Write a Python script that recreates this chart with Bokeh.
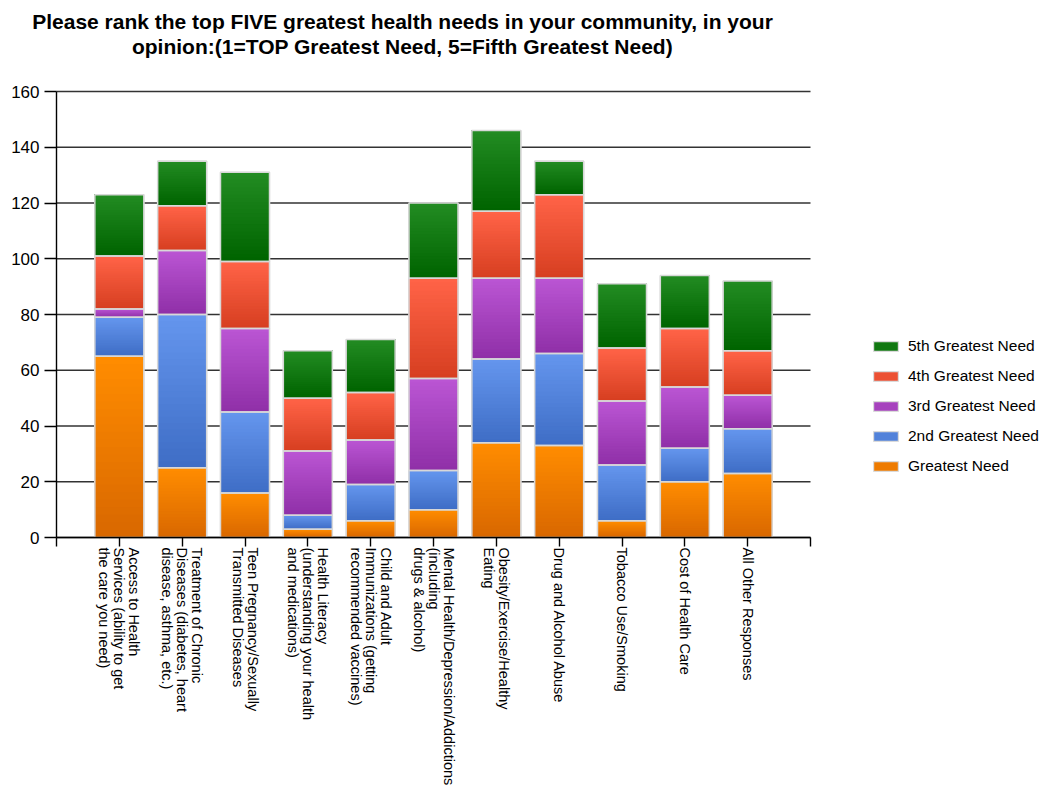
from math import pi
from bokeh.plotting import figure
from bokeh.models import ColumnDataSource, FixedTicker, Legend, LegendItem, Label, Range1d
from bokeh.embed import file_html
from bokeh.resources import INLINE

categories = [
    "Access to Health\nServices (ability to get\nthe care you need)",
    "Treatment of Chronic\nDiseases (diabetes, heart\ndisease, asthma, etc.)",
    "Teen Pregnancy/Sexually\nTransmitted Diseases",
    "Health Literacy\n(understanding your health\nand medications)",
    "Child and Adult\nImmunizations (getting\nrecommended vaccines)",
    "Mental Health/Depression/Addictions\n(including\ndrugs & alcohol)",
    "Obesity/Exercise/Healthy\nEating",
    "Drug and Alcohol Abuse",
    "Tobacco Use/Smoking",
    "Cost of Health Care",
    "All Other Responses",
]
greatest = [65, 25, 16, 3, 6, 10, 34, 33, 6, 20, 23]
second = [14, 55, 29, 5, 13, 14, 30, 33, 20, 12, 16]
third = [3, 23, 30, 23, 16, 33, 29, 27, 23, 22, 12]
fourth = [19, 16, 24, 19, 17, 36, 24, 30, 19, 21, 16]
fifth = [22, 16, 32, 17, 19, 27, 29, 12, 23, 19, 25]

series_names = ["Greatest Need", "2nd Greatest Need", "3rd Greatest Need",
                "4th Greatest Need", "5th Greatest Need"]
series_keys = ["s1", "s2", "s3", "s4", "s5"]
colors = ["#EE7B00", "#5282DA", "#A642BD", "#EC5134", "#117811"]
colors_top = ["#FF8C00", "#6495ED", "#BA55D3", "#FF6347", "#228B22"]
colors_bottom = ["#D96800", "#3F6EC6", "#9030A8", "#D73F21", "#006400"]
y_ticks = [0, 20, 40, 60, 80, 100, 120, 140, 160]
title_lines = ["Please rank the top FIVE greatest health needs in your community, in your",
               "opinion:(1=TOP Greatest Need, 5=Fifth Greatest Need)"]

# ---- layout (pixels) ----
W, H = 1044, 791
PL, PR, PT, PB = 56, 810, 91, 537          # plot-area box on the page
n_slots = len(categories) + 1
Y_MAX = 160
px_x = (PR - PL) / n_slots
px_y = (PB - PT) / Y_MAX
x_range = Range1d(-PL / px_x, n_slots + (W - PR) / px_x)
y_range = Range1d(-(H - PB) / px_y, Y_MAX + PT / px_y)
BAR_W = 0.78
FONT = "Liberation Sans"

positions = list(range(1, len(categories) + 1))
series_vals = [greatest, second, third, fourth, fifth]
src = ColumnDataSource(dict(x=positions, s1=greatest, s2=second, s3=third, s4=fourth, s5=fifth))

p = figure(width=W, height=H, x_range=x_range, y_range=y_range,
           output_backend="svg", toolbar_location=None, title=None,
           min_border=0, min_border_left=0, min_border_right=0,
           min_border_top=0, min_border_bottom=0)
p.outline_line_color = None
p.background_fill_color = "white"
p.border_fill_color = "white"
p.xgrid.visible = False
p.ygrid.visible = False

# horizontal grid lines across the plot area
grid_src = ColumnDataSource(dict(x0=[0] * len(y_ticks), x1=[n_slots] * len(y_ticks),
                                 y=y_ticks))
p.segment(x0="x0", y0="y", x1="x1", y1="y", source=grid_src,
          line_color="#333333", line_width=1.4)

# base stacked bars (also used for legend swatches)
renderers = p.vbar_stack(series_keys, x="x", width=BAR_W, source=src,
                         fill_color=colors, line_color="#dadada", line_width=1.2)


# vertical gradient inside every segment (light top -> dark bottom)
def hex2rgb(h):
    h = h.lstrip("#")
    return tuple(int(h[i:i + 2], 16) for i in (0, 2, 4))


def mix(c1, c2, t):
    a, b = hex2rgb(c1), hex2rgb(c2)
    return "#%02x%02x%02x" % tuple(round(a[i] + (b[i] - a[i]) * t) for i in range(3))


N_STRIPS = 24
gl, gr, gb, gt, gc = [], [], [], [], []
for bi, pos in enumerate(positions):
    base = 0
    for si, vals in enumerate(series_vals):
        v = vals[bi]
        bot, top = base, base + v
        for k in range(N_STRIPS):
            gl.append(pos - BAR_W / 2)
            gr.append(pos + BAR_W / 2)
            gb.append(bot + v * k / N_STRIPS)
            gt.append(top)
            gc.append(mix(colors_bottom[si], colors_top[si], k / (N_STRIPS - 1)))
        base = top
grad_src = ColumnDataSource(dict(left=gl, right=gr, bottom=gb, top=gt, color=gc))
p.quad(left="left", right="right", bottom="bottom", top="top", fill_color="color",
       line_color=None, source=grad_src)

# segment outlines on top
p.vbar_stack(series_keys, x="x", width=BAR_W, source=src,
             fill_color=None, line_color="#d8d8d8", line_width=1.5)

# y axis
ya = p.yaxis[0]
ya.fixed_location = 0
ya.bounds = (0, Y_MAX)
ya.ticker = FixedTicker(ticks=y_ticks)
ya.axis_line_color = "black"
ya.axis_line_width = 1.4
ya.major_tick_line_color = "black"
ya.major_tick_line_width = 1.4
ya.major_tick_out = 12
ya.major_tick_in = 0
ya.minor_tick_line_color = None
ya.major_label_text_font = FONT
ya.major_label_text_font_size = "17px"
ya.major_label_text_color = "black"
ya.major_label_standoff = 5

# x axis (ticks only; the category names are drawn as rotated text below)
xa = p.xaxis[0]
xa.fixed_location = 0
xa.bounds = (0, n_slots)
ticks_x = list(range(0, n_slots + 1))
xa.ticker = FixedTicker(ticks=ticks_x)
xa.major_label_overrides = {t: "" for t in ticks_x}
xa.axis_line_color = "black"
xa.axis_line_width = 1.4
xa.major_tick_line_color = "black"
xa.major_tick_line_width = 1.4
xa.major_tick_out = 9
xa.major_tick_in = 0
xa.minor_tick_line_color = None

# category labels: rotated, one text per line, first line on the right
lx, ly, lt, lo = [], [], [], []
for pos, cat in zip(positions, categories):
    lines = cat.split("\n")
    n = len(lines)
    for j, line in enumerate(lines):
        lx.append(pos)
        ly.append(-10 / px_y)
        lt.append(line)
        lo.append(((n - 1) / 2 - j) * 15)
lab_src = ColumnDataSource(dict(x=lx, y=ly, text=lt, xo=lo))
p.text(x="x", y="y", text="text", x_offset="xo", source=lab_src, angle=-pi / 2,
       text_align="left", text_baseline="middle", text_font={"value": FONT},
       text_font_size="14.5px", text_color="black")

# title
for k, t in enumerate(title_lines):
    p.add_layout(Label(x=402, y=H - 21 - 25 * k, x_units="screen", y_units="screen",
                       text=t, text_align="center", text_baseline="middle",
                       text_font=FONT, text_font_size="21px", text_font_style="bold",
                       text_color="black"))

items = [LegendItem(label=series_names[i], renderers=[renderers[i]])
         for i in reversed(range(len(series_names)))]
legend = Legend(items=items, location=(870, H - 475), glyph_width=31, glyph_height=12,
                label_text_font=FONT, label_text_font_size="15.5px", label_text_color="black",
                label_height=16, spacing=12, padding=0, margin=0, border_line_color=None,
                background_fill_alpha=0, label_standoff=7)
p.add_layout(legend, "center")

open("out.html", "w").write(file_html(p, INLINE))
